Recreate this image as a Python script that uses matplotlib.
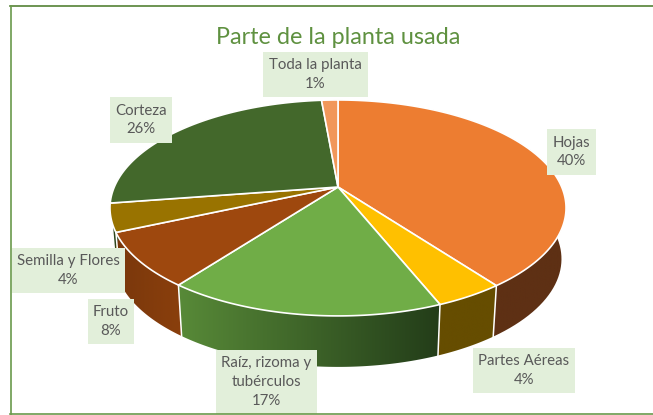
import numpy as np
import matplotlib
matplotlib.use('Agg')
import matplotlib.pyplot as plt
from matplotlib.patches import Polygon, Rectangle
from matplotlib.colors import to_rgb

title = 'Parte de la planta usada'
names = ['Hojas', 'Partes Aéreas', 'Raíz, rizoma y\ntubérculos', 'Fruto', 'Semilla y Flores', 'Corteza', 'Toda la planta']
# slice sizes, the labels show them rounded
shares = [39.8, 4.1, 16.4, 8.1, 4.2, 26.0, 1.4]
label_pct = [40, 4, 17, 8, 4, 26, 1]
top_colors = ['#ED7D31', '#FFC000', '#70AD47', '#9E480E', '#997300', '#43682B', '#F1975A']
# left and right colour of each side wall
wall_colors = [('#5E3014', '#5E3014'), ('#664D00', '#664D00'), ('#588A38', '#233D19'),
               ('#7A380C', '#8A3F0C'), ('#7F6000', '#7F6000'), ('#2D451C', '#2D451C'), ('#A0653C', '#A0653C')]
# label boxes in pixels: left, top, right, bottom
boxes = [(547, 129, 596, 175), (473, 348, 575, 393), (216, 350, 317, 414), (88, 299, 134, 344),
         (12, 248, 125, 293), (110, 97, 172, 143), (263, 52, 368, 97)]

W, H = 653, 415
CX, CY = 338, 187   # apex of the pie on screen
A, B, K = 223.7, 103.9, 0.194  # perspective of the top face
DEPTH = 51


def rim(ang, shrink=1.0, drop=0):
    # ang is clockwise from the top, in radians
    u, v = np.sin(ang), np.cos(ang)
    d = 1 + K * v
    return np.column_stack([CX + shrink * A * u / d, CY - B * v / d + drop])


fig = plt.figure(figsize=(W / 100, H / 100), dpi=100)
ax = fig.add_axes([0, 0, 1, 1])
ax.set_xlim(0, W)
ax.set_ylim(H, 0)
ax.axis('off')

edges = np.cumsum([0] + shares) / sum(shares) * 2 * np.pi

# side walls first, top faces go over the hidden part
for i in range(len(shares)):
    ang = np.linspace(edges[i], edges[i + 1], 80)
    upper = rim(ang)
    lower = rim(ang, 0.98, DEPTH)
    poly = Polygon(np.vstack([upper, lower[::-1]]), closed=True, fc='none', ec='none')
    ax.add_patch(poly)
    c0, c1 = [np.array(to_rgb(c)) for c in wall_colors[i]]
    grad = np.linspace(0, 1, 256)[None, :, None]
    img = c0 + (c1 - c0) * grad
    x0, x1 = min(upper[:, 0].min(), lower[:, 0].min()), max(upper[:, 0].max(), lower[:, 0].max())
    y0, y1 = min(upper[:, 1].min(), lower[:, 1].min()), max(upper[:, 1].max(), lower[:, 1].max())
    im = ax.imshow(img, extent=[x0, x1, y1, y0], aspect='auto', zorder=2)
    im.set_clip_path(poly)
    a, b = rim(edges[[i]]), rim(edges[[i]], 0.98, DEPTH)
    ax.plot([a[0, 0], b[0, 0]], [a[0, 1], b[0, 1]], color='white', lw=1.1, zorder=3)
ax.set_xlim(0, W)
ax.set_ylim(H, 0)

for i in range(len(shares)):
    ang = np.linspace(edges[i], edges[i + 1], 200)
    pts = np.vstack([[CX, CY], rim(ang)])
    ax.add_patch(Polygon(pts, closed=True, fc=top_colors[i], ec='white', lw=1.2, joinstyle='round', zorder=4))

for name, pct, (l, t, r, b) in zip(names, label_pct, boxes):
    ax.add_patch(Rectangle((l, t), r - l, b - t, fc='#E2EFDA', ec='none', zorder=5))
    ax.text((l + r) / 2, (t + b) / 2, f'{name}\n{pct}%', ha='center', va='center', fontsize=10.8,
            family='Lato', color='#595959', linespacing=1.42, zorder=6)

ax.text(338, 37, title, ha='center', va='center', fontsize=16.8, family='Lato', color='#5F9140', zorder=6)

# chart frame, only these sides show in the crop
frame = '#6A9A4B'
ax.plot([10, W], [6.5, 6.5], color='#548235', lw=1.2, zorder=7)
ax.plot([10.5, 10.5], [6, 414], color=frame, lw=1.2, zorder=7)
ax.plot([10, W], [414, 414], color=frame, lw=1.2, zorder=7)

fig.savefig('out.png', dpi=100)
